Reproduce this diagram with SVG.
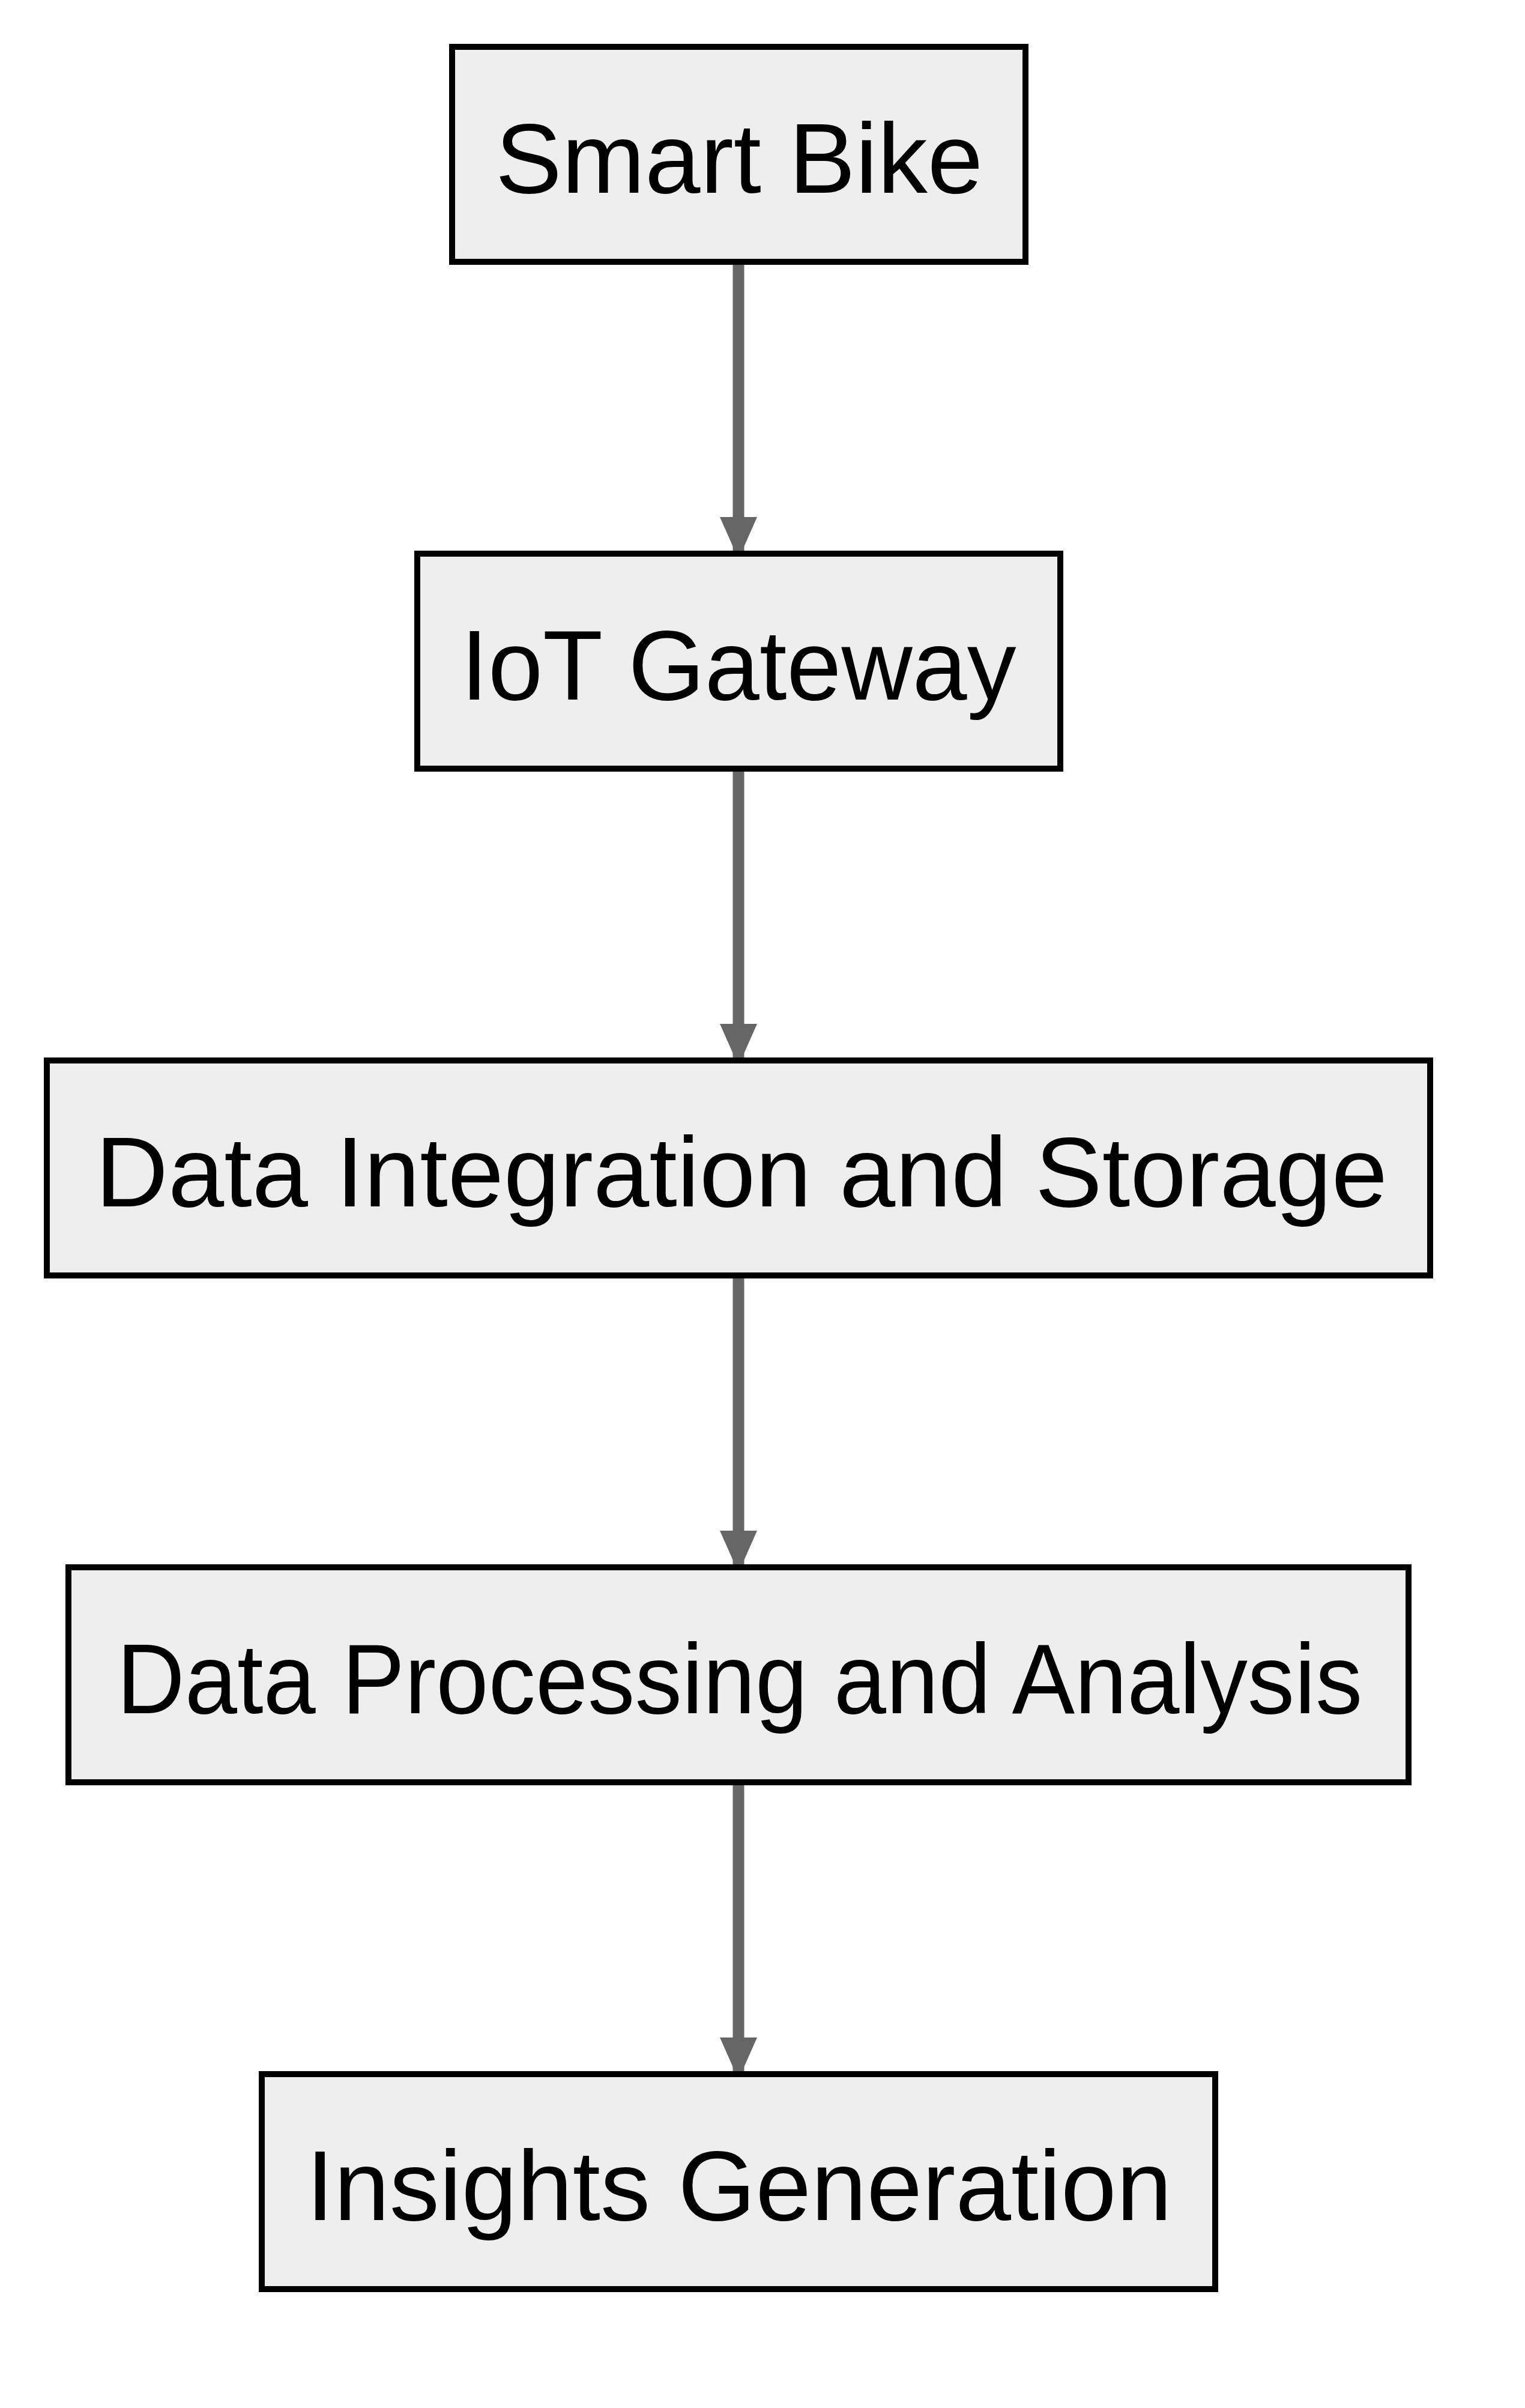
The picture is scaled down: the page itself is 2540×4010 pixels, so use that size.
<svg xmlns="http://www.w3.org/2000/svg" width="2540" height="4010" viewBox="0 0 2540 4010">
<style>
.node rect{fill:#eeeeee;stroke:#000000;stroke-width:10}
.node text{font-family:"Liberation Sans",Arial,sans-serif;font-size:165px;fill:#000000;text-anchor:middle}
.edge{stroke:#666666;stroke-width:19;fill:none}
</style>
<defs>
<marker id="arrow" markerUnits="userSpaceOnUse" markerWidth="70" markerHeight="62" refX="70" refY="31" orient="auto" viewBox="0 0 70 62">
<path d="M0,0 L70,31 L0,62 Z" fill="#666666"/>
</marker>
</defs>
<rect x="0" y="0" width="2540" height="4010" fill="#ffffff"/>
<g id="connectors">
<line class="edge" x1="1230" y1="436" x2="1230" y2="931" marker-end="url(#arrow)"/>
<line class="edge" x1="1230" y1="1280" x2="1230" y2="1775" marker-end="url(#arrow)"/>
<line class="edge" x1="1230" y1="2124" x2="1230" y2="2619" marker-end="url(#arrow)"/>
<line class="edge" x1="1230" y1="2968" x2="1230" y2="3463" marker-end="url(#arrow)"/>
</g>
<g id="smart-bike" class="node">
<rect x="753" y="78" width="955" height="358"/>
<text x="1231" y="321" textLength="812" lengthAdjust="spacingAndGlyphs">Smart Bike</text>
</g>
<g id="iot-gateway" class="node">
<rect x="695" y="922" width="1071" height="358"/>
<text x="1230" y="1165" textLength="925" lengthAdjust="spacingAndGlyphs">IoT Gateway</text>
</g>
<g id="data-integration" class="node">
<rect x="78" y="1766" width="2304" height="358"/>
<text x="1235" y="2009" textLength="2152" lengthAdjust="spacingAndGlyphs">Data Integration and Storage</text>
</g>
<g id="data-processing" class="node">
<rect x="114" y="2610" width="2232" height="358"/>
<text x="1232" y="2853" textLength="2075" lengthAdjust="spacingAndGlyphs">Data Processing and Analysis</text>
</g>
<g id="insights-generation" class="node">
<rect x="436" y="3454" width="1588" height="358"/>
<text x="1231" y="3697" textLength="1442" lengthAdjust="spacingAndGlyphs">Insights Generation</text>
</g>
</svg>
